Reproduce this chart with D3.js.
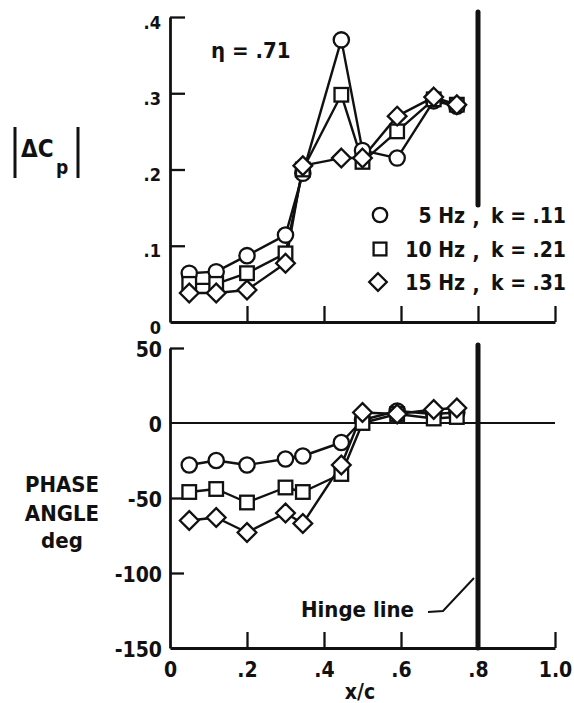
<!DOCTYPE html>
<html>
<head>
<meta charset="utf-8">
<script src="https://cdn.jsdelivr.net/npm/d3@7"></script>
<style>
  html, body { margin: 0; padding: 0; background: #fff; }
  svg { display: block; }
  text { font-family: "DejaVu Sans Condensed", "Liberation Sans Narrow", "DejaVu Sans", sans-serif; fill: #111; font-weight: bold; }
</style>
</head>
<body>
<svg id="chart" width="574" height="703"></svg>
<script>
// Chordwise stations x/c
const xc = [0.05, 0.12, 0.20, 0.30, 0.345, 0.445, 0.50, 0.59, 0.685, 0.745];

// |ΔCp| amplitude per oscillation frequency
const dcp5  = [0.064, 0.066, 0.087, 0.114, 0.195, 0.370, 0.225, 0.215, 0.290, 0.283];
const dcp10 = [0.050, 0.050, 0.064, 0.090, 0.200, 0.298, 0.210, 0.250, 0.292, 0.285];
const dcp15 = [0.038, 0.038, 0.042, 0.077, 0.205, 0.215, 0.215, 0.270, 0.295, 0.285];

// Phase angle, deg
const ph5  = [-28, -25, -28, -24, -22, -13, 2, 8, 6, 7];
const ph10 = [-46, -44, -53, -43, -46, -34, 0, 6, 3, 4];
const ph15 = [-65, -63, -73, -60, -67, -28, 7, 6, 9, 10];

const seriesNames = ["5 Hz", "10 Hz", "15 Hz"];
const seriesK = ["k = .11", "k = .21", "k = .31"];
const seriesSymbols = ["circle", "square", "diamond"];

const xTicks = [0, 0.2, 0.4, 0.6, 0.8, 1.0];
const xTickLabels = ["0", ".2", ".4", ".6", ".8", "1.0"];
const topTicks = [0, 0.1, 0.2, 0.3, 0.4];
const topTickLabels = ["0", ".1", ".2", ".3", ".4"];
const botTicks = [50, 0, -50, -100, -150];
const botTickLabels = ["50", "0", "-50", "-100", "-150"];
const hingeX = 0.8;

const svg = d3.select("#chart");

const x = d3.scaleLinear().domain([0, 1]).range([170, 555]);
const yTop = d3.scaleLinear().domain([0, 0.4]).range([322, 17]);
const yBot = d3.scaleLinear().domain([-150, 50]).range([648, 348]);

function styleAxis(g, fontSize) {
  g.select(".domain").attr("stroke", "#111").attr("stroke-width", 2.8);
  g.selectAll(".tick line").attr("stroke", "#111").attr("stroke-width", 2.3);
  g.selectAll(".tick text").attr("fill", "#111").attr("font-size", fontSize)
    .attr("font-family", null);
}

// ---- Top panel axes ----
const topLeft = svg.append("g").attr("transform", `translate(${x(0)},0)`)
  .call(d3.axisLeft(yTop).tickValues(topTicks)
    .tickFormat((d, i) => topTickLabels[i])
    .tickSizeInner(-15).tickSizeOuter(0).tickPadding(9));
styleAxis(topLeft, 18);
topLeft.selectAll(".tick text").attr("dy", "0.62em");
topLeft.selectAll(".tick").filter(d => d === 0).select("line").remove();

const topBottom = svg.append("g").attr("transform", `translate(0,${yTop(0)})`)
  .call(d3.axisBottom(x).tickValues(xTicks.slice(1))
    .tickFormat("").tickSizeInner(-16).tickSizeOuter(0));
styleAxis(topBottom, 18);

// ---- Bottom panel axes ----
const botLeft = svg.append("g").attr("transform", `translate(${x(0)},0)`)
  .call(d3.axisLeft(yBot).tickValues(botTicks)
    .tickFormat((d, i) => botTickLabels[i])
    .tickSizeInner(-14).tickSizeOuter(0).tickPadding(8));
styleAxis(botLeft, 21);
botLeft.selectAll(".tick text").attr("dy", "0.42em");
botLeft.selectAll(".tick").filter(d => d === -150 || d === 0).select("line").remove();

const botBottom = svg.append("g").attr("transform", `translate(0,${yBot(-150)})`)
  .call(d3.axisBottom(x).tickValues(xTicks)
    .tickFormat((d, i) => xTickLabels[i])
    .tickSizeInner(-16).tickSizeOuter(0).tickPadding(14));
styleAxis(botBottom, 21);
botBottom.selectAll(".tick").filter(d => d === 0).select("line").remove();

// zero line of the phase panel
svg.append("line")
  .attr("x1", x(0)).attr("x2", x(1))
  .attr("y1", yBot(0)).attr("y2", yBot(0))
  .attr("stroke", "#111").attr("stroke-width", 2.2);

// hinge line in both panels
svg.append("line")
  .attr("x1", x(hingeX)).attr("x2", x(hingeX))
  .attr("y1", 12).attr("y2", 205)
  .attr("stroke", "#111").attr("stroke-width", 5).attr("stroke-linecap", "round");
svg.append("line")
  .attr("x1", x(hingeX)).attr("x2", x(hingeX))
  .attr("y1", 345).attr("y2", yBot(-150))
  .attr("stroke", "#111").attr("stroke-width", 5).attr("stroke-linecap", "round");

// ---- Symbols ----
function drawSymbol(g, type, cx, cy, s) {
  const st = { fill: "#fff", stroke: "#111", "stroke-width": 2.3 };
  let el;
  if (type === "circle") {
    el = g.append("circle").attr("cx", cx).attr("cy", cy).attr("r", s * 0.9);
  } else if (type === "square") {
    const h = s * 0.8;
    el = g.append("rect").attr("x", cx - h).attr("y", cy - h).attr("width", 2 * h).attr("height", 2 * h);
  } else {
    const h = s * 1.1;
    el = g.append("path").attr("d", `M${cx},${cy - h}L${cx + h},${cy}L${cx},${cy + h}L${cx - h},${cy}Z`);
  }
  Object.entries(st).forEach(([k, v]) => el.attr(k, v));
}

function drawPanel(seriesList, yScale) {
  const line = d3.line().x((d, i) => x(xc[i])).y(d => yScale(d));
  const gl = svg.append("g");
  seriesList.forEach(vals => {
    gl.append("path").attr("d", line(vals))
      .attr("fill", "none").attr("stroke", "#111").attr("stroke-width", 2.4)
      .attr("stroke-linejoin", "round");
  });
  const gm = svg.append("g");
  seriesList.forEach((vals, si) => {
    vals.forEach((v, i) => drawSymbol(gm, seriesSymbols[si], x(xc[i]), yScale(v), 8.5));
  });
}

drawPanel([dcp5, dcp10, dcp15], yTop);
drawPanel([ph5, ph10, ph15], yBot);

// ---- Legend ----
const legRows = [223, 257, 290];
const lg = svg.append("g");
seriesNames.forEach((name, i) => {
  const cy = legRows[i] - 8;
  drawSymbol(lg, seriesSymbols[i], i === 2 ? 378 : 380, cy, 8);
  lg.append("text").attr("x", 465).attr("y", legRows[i]).attr("text-anchor", "end")
    .attr("font-size", 21).text(name);
  lg.append("text").attr("x", 476).attr("y", legRows[i] + 2).attr("text-anchor", "middle")
    .attr("font-size", 21).text(",");
  lg.append("text").attr("x", 491).attr("y", legRows[i])
    .attr("font-size", 21).text(seriesK[i]);
});

// ---- Labels ----
svg.append("text").attr("x", 211).attr("y", 58).attr("font-size", 22).text("η = .71");

// |ΔCp|
svg.append("line").attr("x1", 15).attr("x2", 15).attr("y1", 127).attr("y2", 178)
  .attr("stroke", "#111").attr("stroke-width", 3);
svg.append("line").attr("x1", 78).attr("x2", 78).attr("y1", 127).attr("y2", 178)
  .attr("stroke", "#111").attr("stroke-width", 3);
svg.append("text").attr("x", 21).attr("y", 157).attr("font-size", 24).text("ΔC");
svg.append("text").attr("x", 56).attr("y", 174).attr("font-size", 19).text("p");

const phaseLbl = ["PHASE", "ANGLE", "deg"];
const phaseY = [492, 521, 548];
phaseLbl.forEach((t, i) => {
  svg.append("text").attr("x", 62).attr("y", phaseY[i]).attr("text-anchor", "middle")
    .attr("font-size", 22).text(t);
});

svg.append("text").attr("x", 360).attr("y", 699).attr("text-anchor", "middle")
  .attr("font-size", 21).text("x/c");

svg.append("text").attr("x", 301).attr("y", 617).attr("font-size", 22).text("Hinge line");
svg.append("path").attr("d", "M428,612L443,611L474,578")
  .attr("fill", "none").attr("stroke", "#111").attr("stroke-width", 2);
</script>
</body>
</html>
